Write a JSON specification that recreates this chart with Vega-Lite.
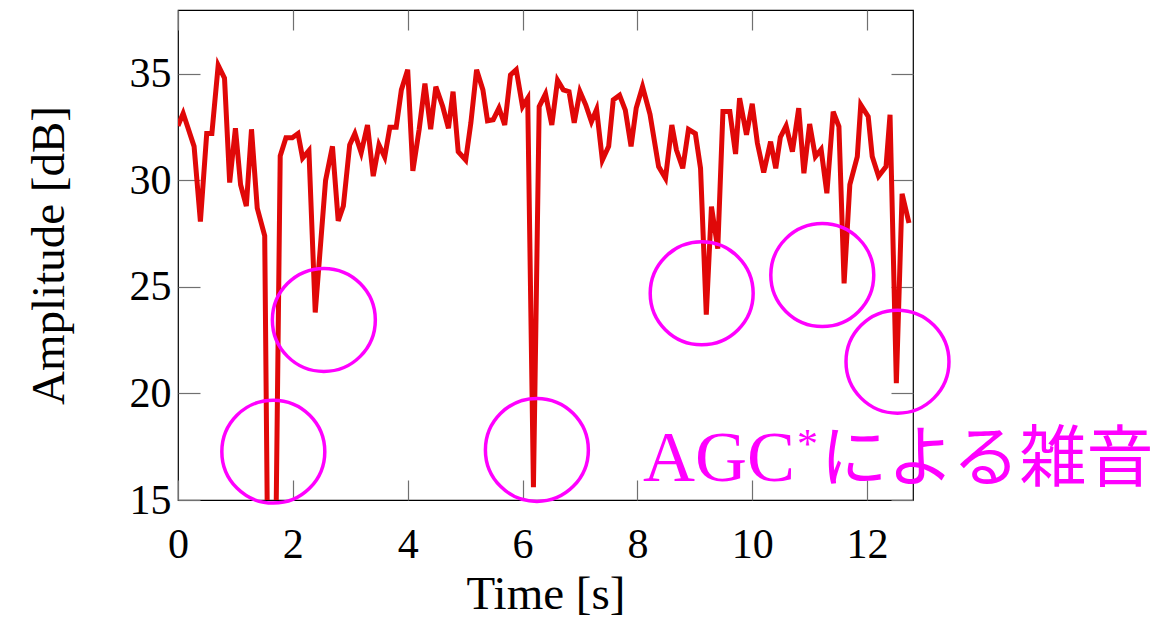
{
  "$schema": "https://vega.github.io/schema/vega-lite/v6.json",
  "width": 735,
  "height": 490,
  "autosize": "none",
  "padding": {"left": 178, "top": 10, "right": 256, "bottom": 118},
  "background": "white",
  "config": {"view": {"stroke": "#000000", "strokeWidth": 1.2}},
  "datasets": {
    "line": [
      {"t":0.0,"v":32.56},{"t":0.09,"v":33.15},{"t":0.28,"v":31.6},{"t":0.39,"v":28.07},{"t":0.5,"v":32.2},
      {"t":0.59,"v":32.2},{"t":0.7,"v":35.4},{"t":0.81,"v":34.8},{"t":0.9,"v":29.9},{"t":1.0,"v":32.45},
      {"t":1.09,"v":29.8},{"t":1.19,"v":28.8},{"t":1.28,"v":32.4},{"t":1.38,"v":28.7},{"t":1.51,"v":27.4},
      {"t":1.57,"v":10},{"t":1.69,"v":10},{"t":1.78,"v":31.15},{"t":1.88,"v":32.0},{"t":1.99,"v":32.0},
      {"t":2.09,"v":32.2},{"t":2.17,"v":31.05},{"t":2.28,"v":31.4},{"t":2.39,"v":23.8},{"t":2.57,"v":30.0},
      {"t":2.69,"v":31.6},{"t":2.79,"v":28.1},{"t":2.88,"v":28.8},{"t":2.99,"v":31.67},{"t":3.08,"v":32.2},
      {"t":3.19,"v":31.3},{"t":3.3,"v":32.6},{"t":3.4,"v":30.2},{"t":3.5,"v":31.67},{"t":3.6,"v":31.1},
      {"t":3.69,"v":32.5},{"t":3.8,"v":32.5},{"t":3.89,"v":34.25},{"t":4.0,"v":35.2},{"t":4.09,"v":30.45},
      {"t":4.2,"v":32.4},{"t":4.3,"v":34.55},{"t":4.4,"v":32.4},{"t":4.49,"v":34.4},{"t":4.61,"v":33.47},
      {"t":4.71,"v":32.45},{"t":4.79,"v":34.17},{"t":4.88,"v":31.35},{"t":5.01,"v":30.96},{"t":5.1,"v":32.7},
      {"t":5.2,"v":35.2},{"t":5.31,"v":34.25},{"t":5.39,"v":32.8},{"t":5.49,"v":32.85},{"t":5.59,"v":33.4},
      {"t":5.69,"v":32.6},{"t":5.79,"v":34.95},{"t":5.89,"v":35.2},{"t":6.0,"v":33.47},{"t":6.09,"v":33.86},
      {"t":6.19,"v":15.6},{"t":6.29,"v":33.47},{"t":6.4,"v":34.06},{"t":6.51,"v":32.6},{"t":6.61,"v":34.7},
      {"t":6.71,"v":34.25},{"t":6.81,"v":34.17},{"t":6.9,"v":32.7},{"t":7.0,"v":34.17},{"t":7.1,"v":33.55},
      {"t":7.2,"v":32.76},{"t":7.29,"v":33.34},{"t":7.39,"v":30.96},{"t":7.5,"v":31.6},{"t":7.58,"v":33.78},
      {"t":7.69,"v":34.0},{"t":7.79,"v":33.3},{"t":7.89,"v":31.6},{"t":7.98,"v":33.4},{"t":8.09,"v":34.4},
      {"t":8.22,"v":33.1},{"t":8.37,"v":30.65},{"t":8.49,"v":30.1},{"t":8.6,"v":32.6},{"t":8.68,"v":31.43},
      {"t":8.79,"v":30.57},{"t":8.89,"v":32.4},{"t":9.01,"v":32.2},{"t":9.1,"v":30.57},{"t":9.2,"v":23.7},
      {"t":9.29,"v":28.77},{"t":9.4,"v":26.8},{"t":9.49,"v":33.23},{"t":9.61,"v":33.23},{"t":9.71,"v":31.24},
      {"t":9.78,"v":33.86},{"t":9.9,"v":32.14},{"t":10.0,"v":33.6},{"t":10.09,"v":31.75},{"t":10.2,"v":30.37},
      {"t":10.32,"v":31.82},{"t":10.41,"v":30.57},{"t":10.49,"v":32.03},{"t":10.59,"v":32.56},{"t":10.7,"v":31.35},
      {"t":10.81,"v":33.39},{"t":10.9,"v":30.34},{"t":11.0,"v":32.65},{"t":11.1,"v":31.12},{"t":11.2,"v":31.46},
      {"t":11.3,"v":29.4},{"t":11.41,"v":33.23},{"t":11.51,"v":32.53},{"t":11.6,"v":25.17},{"t":11.7,"v":29.8},
      {"t":11.83,"v":31.12},{"t":11.89,"v":33.55},{"t":12.02,"v":33.0},{"t":12.09,"v":31.12},{"t":12.2,"v":30.2},
      {"t":12.33,"v":30.65},{"t":12.4,"v":33.08},{"t":12.51,"v":20.48},{"t":12.61,"v":29.37},{"t":12.73,"v":28.0}
    ],
    "circles": [
      {"t":1.66,"v":17.27},{"t":2.54,"v":23.45},{"t":6.25,"v":17.35},
      {"t":9.12,"v":24.7},{"t":11.22,"v":25.56},{"t":12.53,"v":21.49}
    ],
    "agc": [{"t":8.1,"v":15.89,"label":"AGC"}],
    "star": [{"t":10.78,"v":16.95,"label":"*"}],
    "jp": [{"t":11.19,"v":15.89,"label":"による雑音"}]
  },
  "layer": [
    {
      "data": {"name": "line"},
      "mark": {"type": "line", "color": "#e00808", "strokeWidth": 5, "clip": true},
      "encoding": {
        "x": {"field": "t", "type": "quantitative",
              "scale": {"domain": [0, 12.8], "nice": false, "zero": false},
              "axis": {"orient": "bottom", "title": "Time [s]", "values": [0,2,4,6,8,10,12],
                       "grid": false, "domain": false, "tickSize": -20, "tickColor": "#707070", "tickWidth": 1.2,
                       "labelFlush": false, "labelOverlap": false,
                       "labelPadding": 44, "labelFont": "Liberation Serif", "labelFontSize": 42, "labelColor": "#000",
                       "titleFont": "Liberation Serif", "titleFontSize": 47, "titleFontWeight": "normal",
                       "titleColor": "#000", "titlePadding": 6}},
        "y": {"field": "v", "type": "quantitative",
              "scale": {"domain": [15, 38], "nice": false, "zero": false},
              "axis": {"orient": "left", "title": "Amplitude [dB]", "values": [15,20,25,30,35],
                       "grid": false, "domain": false, "tickSize": -22, "tickColor": "#707070", "tickWidth": 1.2,
                       "labelFlush": false, "labelOverlap": false,
                       "labelPadding": 29, "labelFont": "Liberation Serif", "labelFontSize": 42, "labelColor": "#000",
                       "titleFont": "Liberation Serif", "titleFontSize": 47, "titleFontWeight": "normal",
                       "titleColor": "#000", "titlePadding": 56}}
      }
    },
    {
      "data": {"name": "circles"},
      "mark": {"type": "point", "shape": "circle", "filled": false, "stroke": "#ff00ff", "strokeWidth": 3.5, "size": 10600, "opacity": 1},
      "encoding": {
        "x": {"field": "t", "type": "quantitative",
              "axis": {"orient": "top", "title": null, "labels": false, "values": [0,2,4,6,8,10,12],
                       "grid": false, "domain": false, "tickSize": -20, "tickColor": "#707070", "tickWidth": 1.2}},
        "y": {"field": "v", "type": "quantitative",
              "axis": {"orient": "right", "title": null, "labels": false, "values": [15,20,25,30,35],
                       "grid": false, "domain": false, "tickSize": -22, "tickColor": "#707070", "tickWidth": 1.2}}
      }
    },
    {
      "data": {"name": "agc"},
      "mark": {"type": "text", "align": "left", "baseline": "alphabetic", "font": "Liberation Serif", "fontSize": 72, "color": "#ff00ff"},
      "encoding": {
        "x": {"field": "t", "type": "quantitative", "axis": null},
        "y": {"field": "v", "type": "quantitative", "axis": null},
        "text": {"field": "label"}
      }
    },
    {
      "data": {"name": "star"},
      "mark": {"type": "text", "align": "left", "baseline": "alphabetic", "font": "Liberation Serif", "fontSize": 42, "color": "#ff00ff"},
      "encoding": {
        "x": {"field": "t", "type": "quantitative", "axis": null},
        "y": {"field": "v", "type": "quantitative", "axis": null},
        "text": {"field": "label"}
      }
    },
    {
      "data": {"name": "jp"},
      "mark": {"type": "text", "align": "left", "baseline": "alphabetic", "font": "Noto Sans CJK JP", "fontSize": 67, "color": "#ff00ff"},
      "encoding": {
        "x": {"field": "t", "type": "quantitative", "axis": null},
        "y": {"field": "v", "type": "quantitative", "axis": null},
        "text": {"field": "label"}
      }
    }
  ],
  "resolve": {"axis": {"x": "independent", "y": "independent"}}
}
